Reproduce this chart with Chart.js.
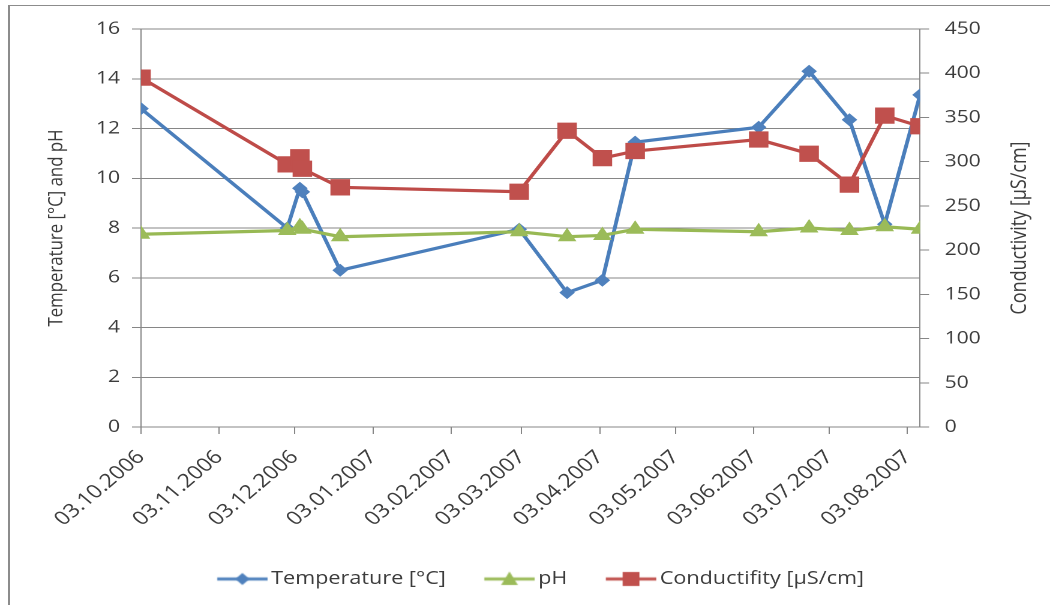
<!DOCTYPE html>
<html>
<head>
<meta charset="utf-8">
<script src="https://cdn.jsdelivr.net/npm/chart.js@4.4.0/dist/chart.umd.min.js"></script>
<style>
  html, body { margin: 0; padding: 0; background: #fff; }
  #wrap { position: relative; width: 1050px; height: 605px; overflow: hidden; }
  #frame { position: absolute; left: 8px; top: 5px; width: 1200px; height: 800px;
           border-left: 2px solid #8c8c8c; border-top: 1px solid #8c8c8c; }
  /* the original figure is a horizontally stretched spreadsheet chart */
  #stretch { position: absolute; left: 0; top: 0; width: 875px; height: 605px;
             transform: scaleX(1.2); transform-origin: 0 0; }
</style>
</head>
<body>
<div id="wrap">
  <div id="frame"></div>
  <div id="stretch"><canvas id="chart" width="875" height="605"></canvas></div>
</div>
<script>
// sampling dates and readings
const sampleDates = ["03.10.2006", "30.11.2006", "05.12.2006", "06.12.2006", "21.12.2006",
                     "02.03.2007", "21.03.2007", "04.04.2007", "17.04.2007", "05.06.2007",
                     "25.06.2007", "11.07.2007", "25.07.2007", "08.08.2007"];
const temperature  = [12.8, 8.0, 9.6, 9.45, 6.3, 7.95, 5.4, 5.9, 11.45, 12.05, 14.3, 12.35, 8.15, 13.35];
const ph           = [7.75, 7.9, 8.05, 7.95, 7.65, 7.85, 7.65, 7.7, 7.95, 7.85, 8.0, 7.9, 8.05, 7.95];
const conductivity = [395, 297, 305, 292, 271, 266, 335, 304, 312, 325, 309, 274, 352, 340];

// month ticks on the date axis
const tickDates = ["03.10.2006", "03.11.2006", "03.12.2006", "03.01.2007", "03.02.2007", "03.03.2007",
                   "03.04.2007", "03.05.2007", "03.06.2007", "03.07.2007", "03.08.2007"];

const FONT = "'Open Sans', sans-serif";
const TXT = "#3c3c3c";
const GRID = "#868686";

// dd.mm.yyyy -> day number
function toDay(s) {
  const [d, m, y] = s.split(".").map(Number);
  return Date.UTC(y, m - 1, d) / 86400000;
}
const points = vals => sampleDates.map((d, i) => ({ x: toDay(d), y: vals[i] }));

// legend swatch: short line with the marker in the middle (drawn in the right 42px)
function swatch(color, shape) {
  const c = document.createElement("canvas");
  c.width = 56; c.height = 18;
  const g = c.getContext("2d");
  g.strokeStyle = color; g.lineWidth = 3.2;
  g.beginPath(); g.moveTo(13, 9); g.lineTo(55, 9); g.stroke();
  g.fillStyle = color;
  g.beginPath();
  if (shape === "diamond") { g.moveTo(34, 3); g.lineTo(40, 9); g.lineTo(34, 15); g.lineTo(28, 9); }
  else if (shape === "triangle") { g.moveTo(34, 1.5); g.lineTo(41, 15); g.lineTo(27, 15); }
  else { g.rect(27, 2, 14, 14); }
  g.closePath(); g.fill();
  return c;
}

const rightTitle = {
  id: "rightTitle",
  afterDraw(chart) {
    const ctx = chart.ctx;
    ctx.save();
    ctx.translate(850, (chart.chartArea.top + chart.chartArea.bottom) / 2);
    ctx.rotate(-Math.PI / 2);
    ctx.font = "18px " + FONT;
    ctx.fillStyle = TXT;
    ctx.textAlign = "center";
    ctx.textBaseline = "middle";
    ctx.fillText("Conductivity [\u00b5S/cm]", 0, 0);
    ctx.restore();
  }
};

new Chart(document.getElementById("chart"), {
  type: "line",
  data: {
    datasets: [
      {
        label: "Temperature [\u00b0C]", data: points(temperature), yAxisID: "y", order: 3,
        borderColor: "#4A7EBB", backgroundColor: "#4F81BD", borderWidth: 3.2,
        pointStyle: "rectRot", pointRadius: 6.5, pointBorderWidth: 0,
      },
      {
        label: "pH", data: points(ph), yAxisID: "y", order: 2,
        borderColor: "#98B954", backgroundColor: "#9BBB59", borderWidth: 3.2,
        pointStyle: "triangle", pointRadius: 9, pointBorderWidth: 0,
      },
      {
        label: "Conductifity [\u00b5S/cm]", data: points(conductivity), yAxisID: "y2", order: 1,
        borderColor: "#BE4B48", backgroundColor: "#C0504D", borderWidth: 3.2,
        pointStyle: "rect", pointRadius: 11.5, pointBorderWidth: 0,
      }
    ]
  },
  options: {
    responsive: false, animation: false, devicePixelRatio: 2,
    layout: { padding: { top: 29, bottom: 7, left: 20, right: 0 } },
    plugins: {
      tooltip: { enabled: false },
      legend: {
        position: "bottom",
        labels: {
          usePointStyle: true, pointStyleWidth: 42, padding: 26,
          color: TXT, font: { family: FONT, size: 18 },
          generateLabels: chart => {
            const shapes = ["diamond", "triangle", "square"];
            return chart.data.datasets.map((ds, i) => ({
              text: ds.label, datasetIndex: i, fontColor: TXT,
              pointStyle: swatch(ds.backgroundColor, shapes[i]),
              fillStyle: ds.backgroundColor, strokeStyle: ds.borderColor, lineWidth: 0
            }));
          }
        }
      }
    },
    scales: {
      x: {
        type: "linear",
        min: toDay(sampleDates[0]), max: toDay(sampleDates[sampleDates.length - 1]),
        afterBuildTicks: s => { s.ticks = tickDates.map(d => ({ value: toDay(d) })); },
        afterFit: s => { s.height = s.chart.height - 427 - s.chart.legend.height - 7; },
        ticks: {
          autoSkip: false, maxRotation: 45, minRotation: 45, padding: 12,
          color: TXT, font: { family: FONT, size: 19 },
          callback: (v, i) => tickDates[i]
        },
        grid: { drawOnChartArea: false, tickLength: 7, color: GRID },
        border: { color: GRID }
      },
      y: {
        position: "left", min: 0, max: 16,
        afterFit: s => { s.width = 97.5; },
        ticks: { stepSize: 2, padding: 10, color: TXT, font: { family: FONT, size: 17.5 } },
        grid: { color: GRID, tickLength: 7.5 },
        border: { color: GRID },
        title: { display: true, text: "Temperature [\u00b0C] and pH", color: TXT,
                 font: { family: FONT, size: 16.8 }, padding: { top: 17 } }
      },
      y2: {
        position: "right", min: 0, max: 450,
        afterFit: s => { s.width = 108.3; },
        ticks: { stepSize: 50, padding: 13, color: TXT, font: { family: FONT, size: 17.5 } },
        grid: { drawOnChartArea: false, color: GRID, tickLength: 7.5 },
        border: { color: GRID }
      }
    }
  },
  plugins: [rightTitle]
});
</script>
</body>
</html>
